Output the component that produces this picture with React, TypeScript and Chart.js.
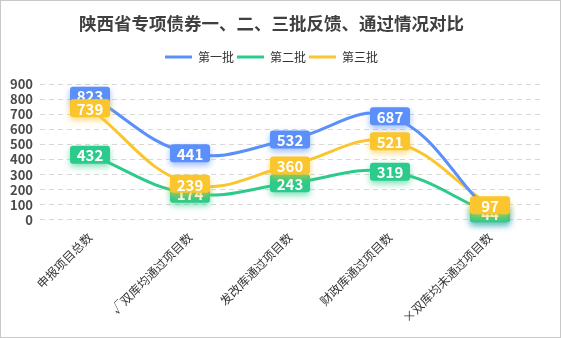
import React, { useEffect, useRef } from "react";
import { Chart, registerables } from "chart.js";

Chart.register(...registerables);

const categories = ["申报项目总数", "√双库均通过项目数", "发改库通过项目数", "财政库通过项目数", "×双库均未通过项目数"];
const batch1 = [823, 441, 532, 687, 45];
const batch2 = [432, 174, 243, 319, 44];
const batch3 = [739, 239, 360, 521, 97];
const seriesNames = ["第一批", "第二批", "第三批"];
const colors = ["#5B8FF9", "#2DCB8B", "#FBC52D"];

const FONT = "'Noto Sans CJK SC', 'Noto Sans', sans-serif";

const legendMargin = {
  id: "legendMargin",
  beforeInit(chart: any) {
    const orig = chart.legend.fit;
    chart.legend.fit = function () {
      orig.bind(chart.legend)();
      this.height += 11;
    };
  },
};

const labelPlugin = {
  id: "boxLabels",
  afterDatasetsDraw(chart: any) {
    const ctx = chart.ctx;
    chart.data.datasets.forEach((ds: any, i: number) => {
      const meta = chart.getDatasetMeta(i);
      if (meta.hidden) return;
      meta.data.forEach((pt: any, j: number) => {
        const text = String(ds.data[j]);
        const w = 40;
        const h = 18;
        const x = pt.x - w / 2;
        const y = pt.y - h / 2;
        ctx.save();
        ctx.shadowColor = ds.borderColor + "99";
        ctx.shadowBlur = 6;
        ctx.shadowOffsetY = 3;
        ctx.fillStyle = ds.borderColor;
        ctx.beginPath();
        (ctx as any).roundRect(x, y, w, h, 3);
        ctx.fill();
        ctx.restore();
        ctx.save();
        ctx.fillStyle = "#ffffff";
        ctx.font = `bold 15px ${FONT}`;
        ctx.textAlign = "center";
        ctx.textBaseline = "middle";
        ctx.fillText(text, pt.x, pt.y + 1);
        ctx.restore();
      });
    });
  },
};

export default function App() {
  const ref = useRef<HTMLCanvasElement>(null);
  useEffect(() => {
    document.body.style.margin = "0";
    const chart = new Chart(ref.current as HTMLCanvasElement, {
      type: "line",
      data: {
        labels: categories,
        datasets: [batch1, batch2, batch3].map((d, i) => ({
          label: seriesNames[i],
          data: d,
          borderColor: colors[i],
          backgroundColor: colors[i],
          borderWidth: 3,
          pointRadius: 0,
          pointHoverRadius: 0,
          tension: 0.4,
          fill: false,
        })),
      },
      options: {
        animation: false,
        responsive: true,
        maintainAspectRatio: false,
        layout: { padding: { left: 2, right: 20, top: 8, bottom: 10 } },
        plugins: {
          title: {
            display: true,
            text: "陕西省专项债券一、二、三批反馈、通过情况对比",
            color: "#404040",
            font: { family: FONT, size: 17.5, weight: "bold" },
            padding: { top: 4, bottom: 14 },
          },
          legend: {
            display: true,
            labels: {
              boxWidth: 27,
              boxHeight: 3,
              color: "#333",
              font: { family: FONT, size: 12 },
              padding: 3,
              generateLabels: (chart: any) =>
                chart.data.datasets.map((ds: any, i: number) => ({
                  text: ds.label,
                  fillStyle: ds.borderColor,
                  strokeStyle: ds.borderColor,
                  lineWidth: 0,
                  hidden: false,
                  datasetIndex: i,
                  fontColor: "#333",
                })),
            },
          },
          tooltip: { enabled: false },
        },
        scales: {
          x: {
            offset: true,
            grid: { display: false },
            border: { display: false },
            ticks: {
              color: "#333",
              font: { family: FONT, size: 12 },
              maxRotation: 45,
              minRotation: 45,
              padding: 2,
            },
          },
          y: {
            min: 0,
            max: 900,
            ticks: {
              stepSize: 100,
              autoSkip: false,
              color: "#4a4a4a",
              font: { family: FONT, size: 13, weight: "bold" },
              padding: 7,
            },
            border: { display: true, width: 0, color: "rgba(0,0,0,0)", dash: [5, 4] },
            grid: { color: "#d8d8d8", drawTicks: false },
          },
        },
      },
      plugins: [legendMargin, labelPlugin],
    });
    return () => chart.destroy();
  }, []);
  return (
    <div
      style={{
        position: "fixed",
        left: 0,
        top: 0,
        width: 561,
        height: 338,
        boxSizing: "border-box",
        border: "1px solid #c8c8c8",
        background: "#fff",
      }}
    >
      <canvas ref={ref} />
    </div>
  );
}
